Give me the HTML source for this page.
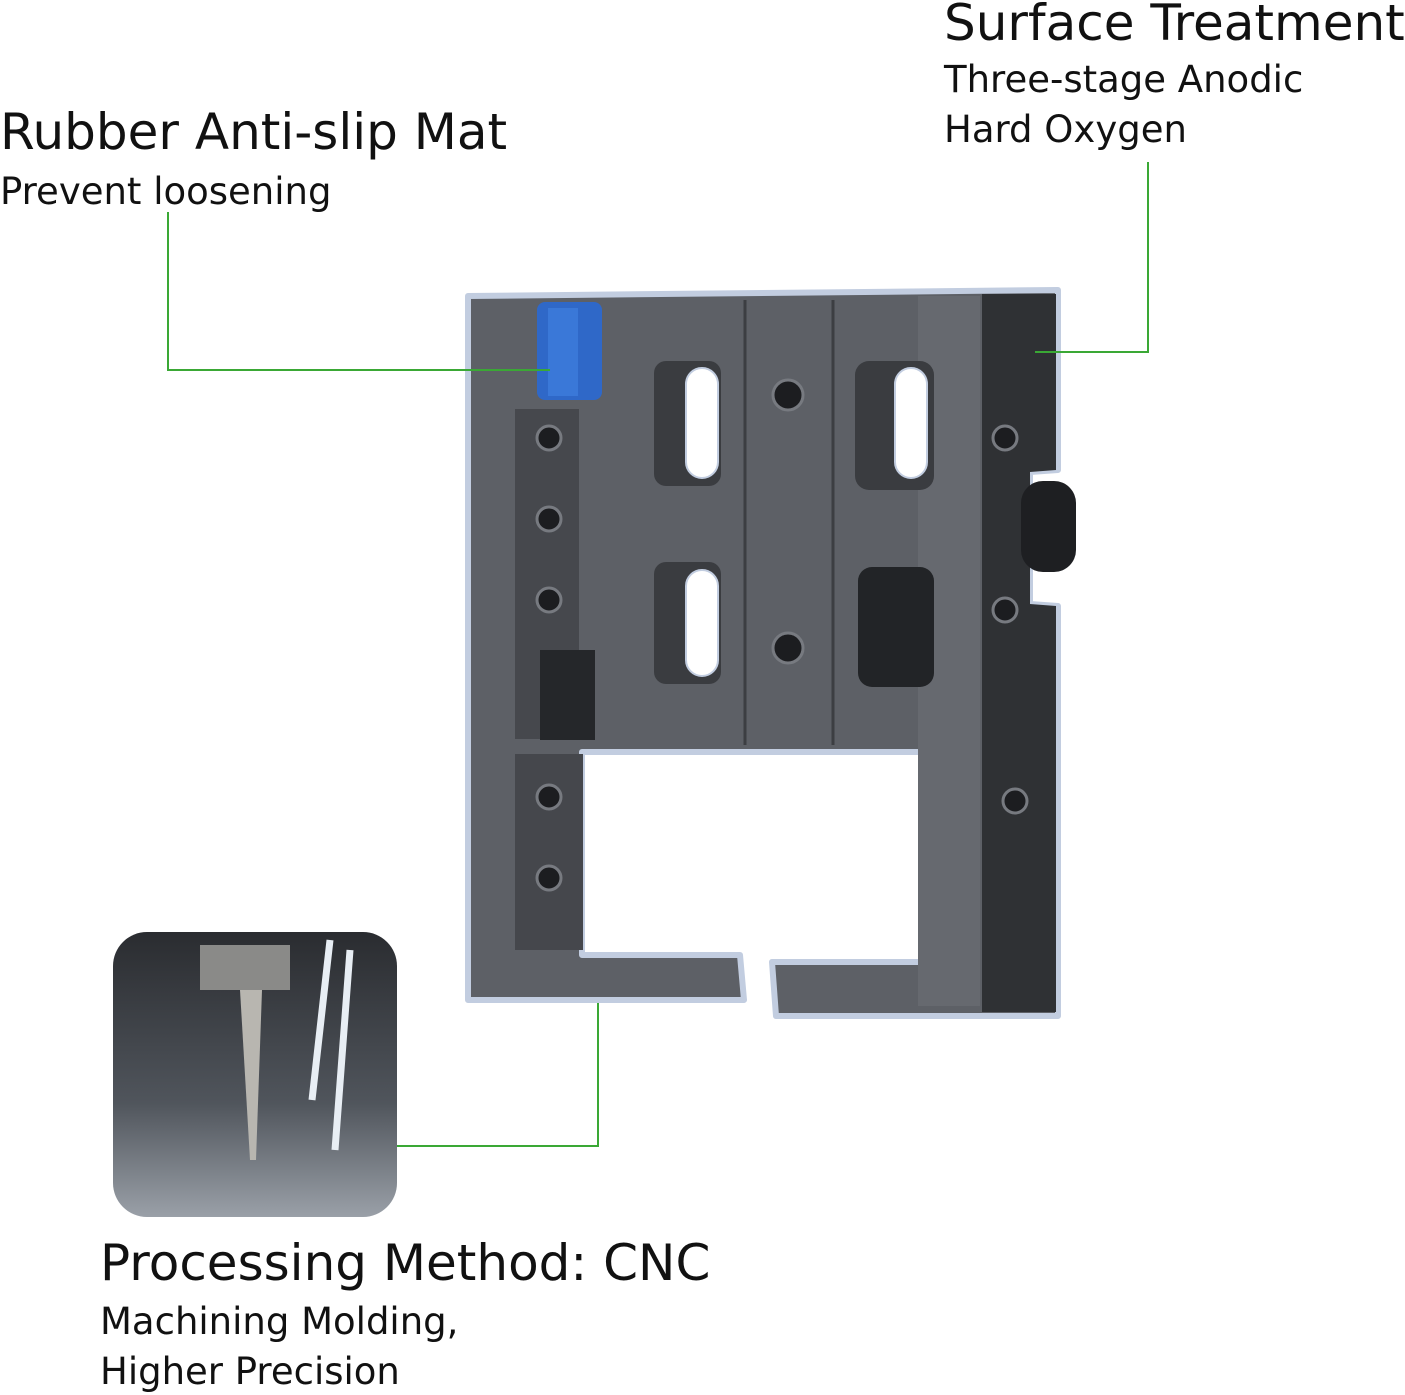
<!DOCTYPE html>
<html><head><meta charset="utf-8"><style>
body{margin:0;background:#fff;width:1405px;height:1395px;overflow:hidden;position:relative;font-family:"DejaVu Sans","Liberation Sans",sans-serif;color:#111}
.t{position:absolute;white-space:nowrap}
</style></head><body>
<div class="t" style="left:0;top:103px;font-size:50px;">Rubber Anti-slip Mat</div>
<div class="t" style="left:0;top:170px;font-size:37px;">Prevent loosening</div>
<div class="t" style="left:944px;top:-6px;font-size:50px;">Surface Treatment</div>
<div class="t" style="left:944px;top:58px;font-size:37px;">Three-stage Anodic</div>
<div class="t" style="left:944px;top:108px;font-size:37px;">Hard Oxygen</div>
<div class="t" style="left:100px;top:1234px;font-size:50px;">Processing Method: CNC</div>
<div class="t" style="left:100px;top:1300px;font-size:37px;">Machining Molding,</div>
<div class="t" style="left:100px;top:1350px;font-size:37px;">Higher Precision</div>
<svg width="1405" height="1395" style="position:absolute;left:0;top:0">
<defs><linearGradient id="cnc" x1="0" y1="0" x2="0" y2="1"><stop offset="0" stop-color="#2a2c30"/><stop offset="0.6" stop-color="#50555c"/><stop offset="1" stop-color="#9aa0a8"/></linearGradient></defs>
<rect x="113" y="932" width="284" height="285" rx="34" fill="url(#cnc)"/>
<rect x="200" y="945" width="90" height="45" fill="#8a8a88"/>
<polygon points="240,990 262,990 256,1160 250,1160" fill="#b8b6b0"/>
<path d="M330,940 L312,1100 M350,950 L335,1150" stroke="#e8eef4" stroke-width="7" fill="none"/>
<path d="M468,296 L1058,290 L1058,470 L1030,472 L1030,604 L1058,606 L1058,1016 L776,1016 L772,962 L938,962 L938,752 L582,752 L582,955 L740,955 L744,1000 L468,1000 Z" fill="#5d6066" stroke="#c2cde0" stroke-width="6" stroke-linejoin="round"/>
<path d="M982,294 L1056,294 L1056,470 L1030,472 L1030,604 L1056,606 L1056,1012 L982,1012 Z" fill="#2f3134"/>
<rect x="515" y="409" width="64" height="330" fill="#46484d"/>
<rect x="540" y="650" width="55" height="90" fill="#25272a"/>
<rect x="515" y="754" width="68" height="196" fill="#45474c"/>
<line x1="745" y1="300" x2="745" y2="745" stroke="#3c3e42" stroke-width="3"/>
<line x1="833" y1="300" x2="833" y2="745" stroke="#3c3e42" stroke-width="3"/>
<rect x="918" y="296" width="62" height="710" fill="#66696f"/>
<rect x="654" y="361" width="67" height="125" rx="12" fill="#3a3c40"/>
<rect x="686" y="368" width="32" height="110" rx="16" fill="#fff" stroke="#c2cde0" stroke-width="2"/>
<rect x="654" y="562" width="67" height="122" rx="12" fill="#3a3c40"/>
<rect x="686" y="570" width="32" height="106" rx="16" fill="#fff" stroke="#c2cde0" stroke-width="2"/>
<rect x="855" y="361" width="79" height="129" rx="14" fill="#3a3c40"/>
<rect x="895" y="368" width="32" height="110" rx="16" fill="#fff" stroke="#c2cde0" stroke-width="2"/>
<rect x="858" y="567" width="76" height="120" rx="14" fill="#222427"/>
<rect x="537" y="302" width="65" height="98" rx="8" fill="#2f68c8"/>
<rect x="548" y="308" width="30" height="88" fill="#3a78d8"/>
<g fill="#1c1d20" stroke="#777a80" stroke-width="3">
<circle cx="549" cy="438" r="12"/><circle cx="549" cy="519" r="12"/><circle cx="549" cy="600" r="12"/><circle cx="549" cy="797" r="12"/><circle cx="549" cy="878" r="12"/>
<circle cx="788" cy="395" r="15"/><circle cx="788" cy="648" r="15"/>
<circle cx="1005" cy="438" r="12"/><circle cx="1005" cy="610" r="12"/><circle cx="1015" cy="801" r="12"/>
</g>
<rect x="1021" y="481" width="55" height="91" rx="22" fill="#1e1f22"/>
<g stroke="#3aa835" stroke-width="2" fill="none">
<polyline points="168,212 168,370 550,370"/>
<polyline points="1148,162 1148,352 1035,352"/>
<polyline points="598,1003 598,1146 397,1146"/>
</g>
</svg>
</body></html>
